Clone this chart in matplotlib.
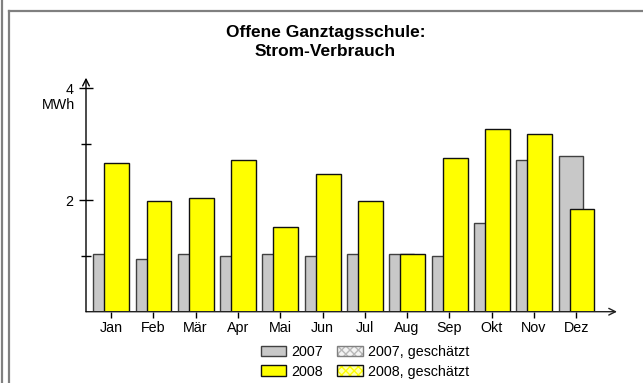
import matplotlib

matplotlib.use("Agg")
import matplotlib.pyplot as plt
from matplotlib.lines import Line2D
from matplotlib.patches import Patch
from matplotlib.legend_handler import HandlerTuple
import numpy as np

plt.rcParams["font.family"] = ["Liberation Sans", "DejaVu Sans"]

months = ["Jan", "Feb", "Mär", "Apr", "Mai", "Jun", "Jul", "Aug", "Sep", "Okt", "Nov", "Dez"]
verbrauch_2007 = [1.04, 0.94, 1.04, 1.00, 1.04, 1.00, 1.04, 1.04, 1.00, 1.58, 2.71, 2.78]
verbrauch_2008 = [2.67, 1.98, 2.04, 2.72, 1.51, 2.47, 1.99, 1.04, 2.75, 3.27, 3.18, 1.83]
y_major = [2, 4]
y_minor = [1, 3]

GRAY = "#c8c8c8"
YELLOW = "#ffff00"
FRAME = "#808080"
FS = 10.3

W, H = 643, 383
fig = plt.figure(figsize=(W / 100, H / 100), dpi=100)

# plot area in pixel coordinates
left, right, top, bottom = 86, 617, 77.7, 311.7
ax = fig.add_axes([left / W, 1 - bottom / H, (right - left) / W, (bottom - top) / H])

x = np.arange(len(months))
bar_w = 0.59
ax.bar(x - 0.125, verbrauch_2007, width=bar_w, color=GRAY, edgecolor="#404040", linewidth=1.0, zorder=2)
ax.bar(x + 0.135, verbrauch_2008, width=bar_w, color=YELLOW, edgecolor="#111111", linewidth=1.0, zorder=3)

ax.set_xlim(-0.591, 11.962)
ax.set_ylim(0, 4.19)
for s in ax.spines.values():
    s.set_visible(False)

# axis lines with open arrowheads
ax.annotate("", xy=(1, 0), xytext=(0, 0), xycoords="axes fraction",
            arrowprops=dict(arrowstyle="->", color="#222222", lw=1.0, shrinkA=0, shrinkB=0,
                            mutation_scale=12), zorder=4)
ax.annotate("", xy=(0, 1), xytext=(0, 0), xycoords="axes fraction",
            arrowprops=dict(arrowstyle="->", color="black", lw=1.0, shrinkA=0, shrinkB=0,
                            mutation_scale=12), zorder=4)

ax.set_xticks(x)
ax.set_xticklabels(months)
ax.tick_params(axis="x", direction="out", length=4, width=1, pad=3, labelsize=FS)
ax.set_yticks(y_major)
ax.set_yticks(y_minor, minor=True)
ax.tick_params(axis="y", which="major", direction="inout", length=10, width=1, pad=4, labelsize=FS)
ax.tick_params(axis="y", which="minor", direction="inout", length=7, width=1)

fig.text(75 / W, 1 - 105 / H, "MWh", ha="right", va="center", fontsize=FS)

fig.text(325.5 / W, 1 - 42 / H, "Offene Ganztagsschule:\nStrom-Verbrauch", ha="center", va="center",
         fontsize=12.5, fontweight="bold", linespacing=1.3)

# legend
h07 = Patch(facecolor=GRAY, edgecolor="#404040", linewidth=1.0)
h08 = Patch(facecolor=YELLOW, edgecolor="#111111", linewidth=1.0)
h07e = (Patch(facecolor="#f4f4f4", edgecolor="#b8b8b8", hatch="xxxx", linewidth=0),
        Patch(facecolor="none", edgecolor="#808080", linewidth=1.0))
h08e = (Patch(facecolor="#ffffb0", edgecolor=YELLOW, hatch="xxxx", linewidth=0),
        Patch(facecolor="none", edgecolor="#111111", linewidth=1.0))
fig.legend([h07, h08, h07e, h08e], ["2007", "2008", "2007, geschätzt", "2008, geschätzt"],
           handler_map={tuple: HandlerTuple(ndivide=1, pad=0)},
           ncol=2, loc="center", bbox_to_anchor=(365 / W, 1 - 362 / H), frameon=False,
           fontsize=FS, handlelength=1.8, handleheight=0.7, handletextpad=0.35,
           columnspacing=1.0, labelspacing=0.35, borderpad=0, borderaxespad=0)

# frame lines around the panel
fig.add_artist(Line2D([1.5 / W, 1.5 / W], [0, 1], color=FRAME, lw=1.6))
fig.add_artist(Line2D([8.5 / W, 8.5 / W], [0, 1 - 11 / H], color=FRAME, lw=1.6))
fig.add_artist(Line2D([8.5 / W, 1], [1 - 11 / H, 1 - 11 / H], color=FRAME, lw=1.6))

fig.savefig("out.png", dpi=100)
